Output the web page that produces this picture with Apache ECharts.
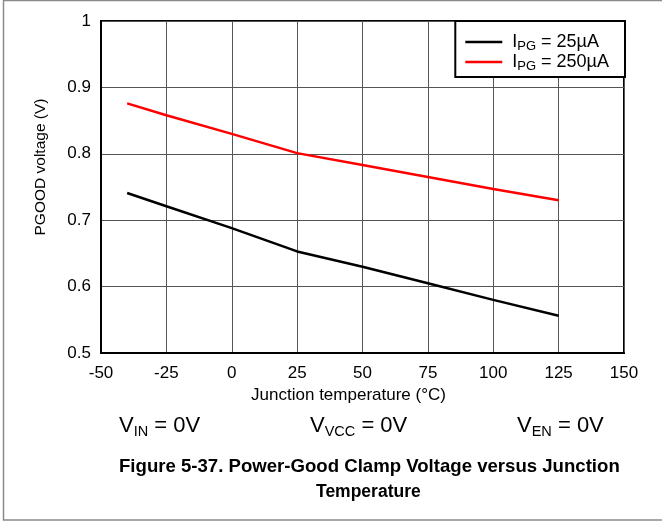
<!DOCTYPE html>
<html>
<head>
<meta charset="utf-8">
<script src="https://cdn.jsdelivr.net/npm/echarts/dist/echarts.min.js"></script>
<style>
  html, body { margin: 0; padding: 0; background: #fff; }
  #chart { width: 662px; height: 521px; }
</style>
</head>
<body>
<div id="chart"></div>
<script>
// Junction temperature sample points (°C)
const temps = [-40, -25, 0, 25, 50, 75, 100, 125];
// PGOOD clamp voltage (V) at IPG = 25 µA
const pg25 = [0.741, 0.721, 0.688, 0.653, 0.630, 0.605, 0.580, 0.556];
// PGOOD clamp voltage (V) at IPG = 250 µA
const pg250 = [0.876, 0.858, 0.830, 0.801, 0.783, 0.765, 0.747, 0.730];

const seriesNames = ['25', '250'];
const xTicks = { min: -50, max: 150, step: 25 };
const yTicks = { min: 0.5, max: 1, step: 0.1 };

const FONT = 'Liberation Sans, Arial, sans-serif';
const pairs = (ys) => temps.map((t, i) => [t, ys[i]]);

const chart = echarts.init(document.getElementById('chart'), null, { renderer: 'canvas' });

const legendRich = {
  m: { fontFamily: FONT, fontSize: 18, color: '#000' },
  s: { fontFamily: FONT, fontSize: 13, color: '#000', padding: [9, 0, 0, 0] }
};
const condRich = {
  m: { fontFamily: FONT, fontSize: 22, fill: '#000' },
  s: { fontFamily: FONT, fontSize: 14.5, fill: '#000', padding: [11, 0, 0, 0] }
};

chart.setOption({
  backgroundColor: '#fff',
  animation: false,
  grid: {
    left: 101, top: 21, right: 38, bottom: 168,
    show: true, borderColor: '#000', borderWidth: 2, backgroundColor: 'transparent'
  },
  xAxis: {
    type: 'value',
    min: xTicks.min, max: xTicks.max, interval: xTicks.step,
    name: 'Junction temperature (°C)',
    nameLocation: 'middle', nameGap: 33,
    nameTextStyle: { fontFamily: FONT, fontSize: 17, color: '#000', padding: [0, 28, 0, 0] },
    axisLine: { show: true, onZero: false, lineStyle: { color: '#000', width: 2 } },
    axisTick: { show: false },
    axisLabel: { fontFamily: FONT, fontSize: 17, color: '#000', margin: 12 },
    splitLine: { show: true, lineStyle: { color: '#555', width: 1 } }
  },
  yAxis: {
    type: 'value',
    min: yTicks.min, max: yTicks.max, interval: yTicks.step,
    name: 'PGOOD voltage (V)',
    nameLocation: 'middle', nameGap: 52, nameRotate: 90,
    nameTextStyle: { fontFamily: FONT, fontSize: 15.5, color: '#000', padding: [0, 0, 0, 40] },
    axisLine: { show: true, onZero: false, lineStyle: { color: '#000', width: 2 } },
    axisTick: { show: false },
    axisLabel: { fontFamily: FONT, fontSize: 17, color: '#000', margin: 10 },
    splitLine: { show: true, lineStyle: { color: '#555', width: 1 } }
  },
  legend: {
    orient: 'vertical',
    right: 37, top: 21,
    backgroundColor: '#fff',
    borderColor: '#000', borderWidth: 2, borderRadius: 0,
    padding: [12, 16, 4, 10],
    itemGap: 0,
    itemWidth: 37, itemHeight: 2.5,
    icon: 'rect',
    textStyle: { fontFamily: FONT, fontSize: 18, color: '#000', rich: legendRich, padding: [0, 0, 0, 5] },
    formatter: (name) => '{m|I}{s|PG}{m| = ' + name + 'µA}',
    data: seriesNames
  },
  series: [
    {
      name: seriesNames[0], type: 'line', data: pairs(pg25),
      showSymbol: false, smooth: false,
      lineStyle: { color: '#000', width: 2.5 }, itemStyle: { color: '#000' }
    },
    {
      name: seriesNames[1], type: 'line', data: pairs(pg250),
      showSymbol: false, smooth: false,
      lineStyle: { color: '#ff0000', width: 2.5 }, itemStyle: { color: '#ff0000' }
    }
  ],
  graphic: [
    {
      type: 'rect', silent: true, z: -10,
      shape: { x: 3.5, y: 0.5, width: 660, height: 519.5 },
      style: { fill: 'none', stroke: '#8a8a8a', lineWidth: 1.5 }
    },
    {
      type: 'text', top: 415, left: 119, z: 10,
      style: { text: '{m|V}{s|IN}{m| = 0V}', rich: condRich }
    },
    {
      type: 'text', top: 415, left: 310, z: 10,
      style: { text: '{m|V}{s|VCC}{m| = 0V}', rich: condRich }
    },
    {
      type: 'text', top: 415, left: 517, z: 10,
      style: { text: '{m|V}{s|EN}{m| = 0V}', rich: condRich }
    },
    {
      type: 'text', top: 457, left: 119, z: 10,
      style: {
        text: 'Figure 5-37. Power-Good Clamp Voltage versus Junction',
        font: 'bold 18.6px ' + FONT, fill: '#000'
      }
    },
    {
      type: 'text', top: 483, left: 316, z: 10,
      style: {
        text: 'Temperature',
        font: 'bold 17.5px ' + FONT, fill: '#000'
      }
    }
  ]
});
</script>
</body>
</html>
